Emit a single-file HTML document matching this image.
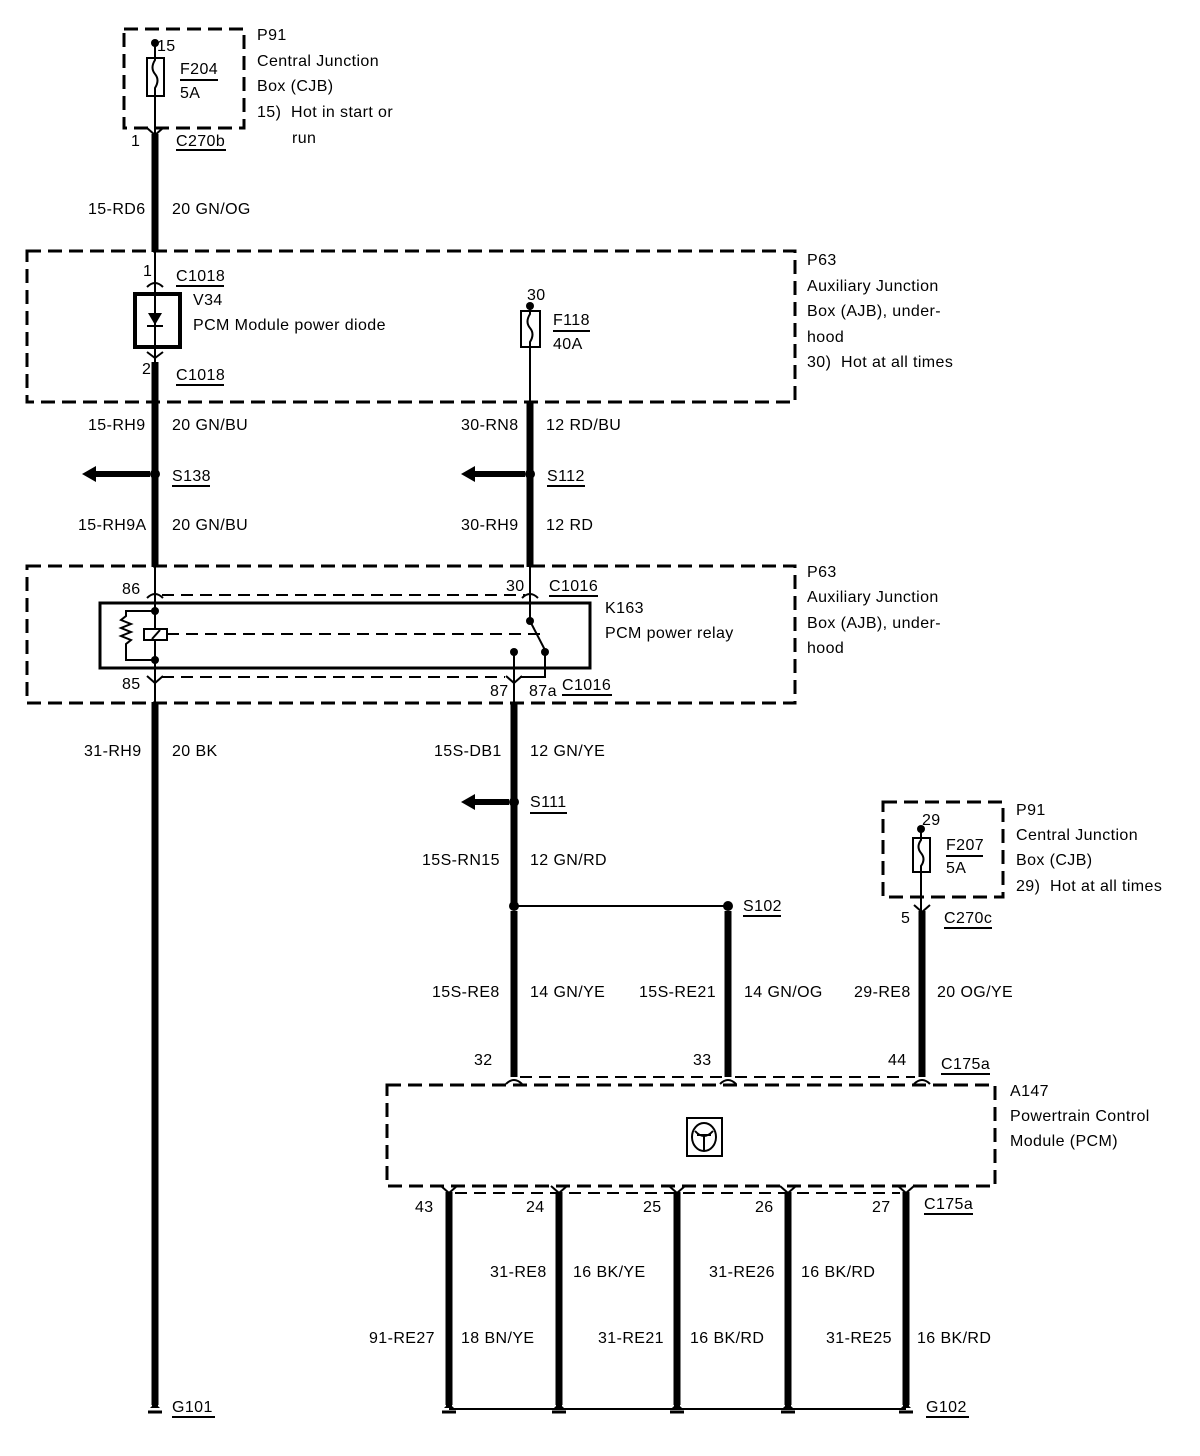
<!DOCTYPE html>
<html><head><meta charset="utf-8"><style>
html,body{margin:0;padding:0;background:#fff;}
svg{display:block;font-family:"Liberation Sans",Arial,sans-serif;font-size:16px;letter-spacing:0.4px;fill:#000;}
.d{fill:none;stroke:#000;stroke-width:3;stroke-dasharray:14,7;}
.t{stroke:#000;stroke-width:7;fill:none;}
.n{stroke:#000;stroke-width:2;fill:none;}
</style></head><body>
<svg width="1200" height="1456" viewBox="0 0 1200 1456" xmlns="http://www.w3.org/2000/svg">
<defs>
<g id="gnd"><rect x="-3" y="-6" width="6" height="6"/><path d="M-5 0 q5 -6 10 0 Z"/><path d="M-7 4 L7 4" stroke="#000" stroke-width="3"/></g>
</defs>
<!-- Top P91 box -->
<rect class="d" x="124" y="29" width="120" height="99"/>
<circle cx="155" cy="43" r="4"/>
<rect class="n" x="147" y="58" width="17" height="38"/>
<path class="n" d="M155 43 V60 q-5 8 0 14 q5 6 0 14 V135"/>
<text x="157" y="51">15</text>
<text x="180" y="74">F204</text><path class="n" d="M180 80 H218"/>
<text x="180" y="98">5A</text>
<text x="257" y="40">P91</text><text x="257" y="66">Central Junction</text><text x="257" y="91">Box (CJB)</text><text x="257" y="117">15)&#160;&#160;Hot in start or</text><text x="292" y="143">run</text>
<path class="n" d="M147 128 L155 135 L163 128" stroke-width="3"/>
<path class="t" d="M155 134 V252"/>
<text x="131" y="146">1</text><text x="176" y="146">C270b</text><path class="n" d="M176 150 H226"/>
<text x="88" y="214">15-RD6</text><text x="172" y="214">20 GN/OG</text>
<!-- AJB box -->
<rect class="d" x="27" y="251" width="768" height="151"/>
<path class="n" d="M155 252 V378"/>
<path class="n" d="M147 287 q8 -8 16 0" stroke-width="3"/>
<text x="143" y="276">1</text><text x="176" y="281">C1018</text><path class="n" d="M176 286 H224"/>
<rect x="135" y="294" width="45" height="53" fill="none" stroke="#000" stroke-width="4"/>
<path d="M148 313 H162 L155 325 Z"/><path class="n" d="M147 326 H163"/>
<text x="193" y="305">V34</text><text x="193" y="330">PCM Module power diode</text>
<path class="n" d="M147 352 L155 358 L163 352" stroke-width="3"/>
<text x="142" y="374">2</text><text x="176" y="380">C1018</text><path class="n" d="M176 385 H224"/>
<text x="527" y="300">30</text><circle cx="530" cy="306" r="4"/>
<rect class="n" x="521" y="311" width="19" height="36"/>
<path class="n" d="M530 306 V314 q-5 8 0 14 q5 6 0 14 V405"/>
<text x="553" y="325">F118</text><path class="n" d="M553 331 H590"/><text x="553" y="349">40A</text>
<text x="807" y="265">P63</text><text x="807" y="291">Auxiliary Junction</text><text x="807" y="316">Box (AJB), under-</text><text x="807" y="342">hood</text><text x="807" y="367">30)&#160;&#160;Hot at all times</text>
<!-- thick mid wires -->
<path class="t" d="M155 362 V567"/><path class="t" d="M530 402 V567"/>
<text x="88" y="430">15-RH9</text><text x="172" y="430">20 GN/BU</text>
<text x="461" y="430">30-RN8</text><text x="546" y="430">12 RD/BU</text>
<circle cx="155" cy="474" r="5"/><path d="M82 474 L96 466 V471 H150 V477 H96 V482 Z"/>
<text x="172" y="481">S138</text><path class="n" d="M172 486 H210"/>
<circle cx="530" cy="474" r="5"/><path d="M461 474 L475 466 V471 H525 V477 H475 V482 Z"/>
<text x="547" y="481">S112</text><path class="n" d="M547 486 H585"/>
<text x="78" y="530">15-RH9A</text><text x="172" y="530">20 GN/BU</text>
<text x="461" y="530">30-RH9</text><text x="546" y="530">12 RD</text>
<!-- Relay box -->
<rect class="d" x="27" y="566" width="768" height="137"/>
<rect x="100" y="603" width="490" height="65" fill="none" stroke="#000" stroke-width="3"/>
<path class="n" d="M155 566 V603"/><path class="n" d="M147 598 q8 -8 16 0" stroke-width="3"/>
<path class="n" d="M162 595 H525" stroke-dasharray="12,7"/>
<text x="122" y="594">86</text>
<path class="n" d="M155 603 V668"/>
<circle cx="155" cy="611" r="4"/><circle cx="155" cy="660" r="4"/>
<path class="n" d="M155 611 H126 V616 l-5 4 l10 4 l-10 4 l10 4 l-10 4 l10 4 l-5 4 V660 H155"/>
<rect x="144" y="629" width="23" height="11" fill="#fff" stroke="#000" stroke-width="2"/><path class="n" d="M152 639 L160 630"/>
<path class="n" d="M167 634 H540" stroke-dasharray="12,7"/>
<path class="n" d="M530 566 V621"/><path class="n" d="M522 598 q8 -8 16 0" stroke-width="3"/>
<text x="506" y="591">30</text><text x="549" y="591">C1016</text><path class="n" d="M549 596 H598"/>
<circle cx="530" cy="621" r="4"/><path class="n" d="M530 621 L546 652"/><circle cx="545" cy="652" r="4"/>
<circle cx="514" cy="652" r="4"/><path class="n" d="M514 652 V703"/>
<path class="n" d="M545 652 V677 H520"/>
<path class="n" d="M155 668 V703"/><path class="n" d="M147 676 L155 683 L163 676" stroke-width="3"/>
<path class="n" d="M162 677 H505" stroke-dasharray="12,7"/>
<path class="n" d="M506 676 L514 683 L522 676" stroke-width="3"/>
<text x="122" y="689">85</text><text x="490" y="696">87</text><text x="529" y="696">87a</text>
<text x="562" y="690">C1016</text><path class="n" d="M562 695 H612"/>
<text x="605" y="613">K163</text><text x="605" y="638">PCM power relay</text>
<text x="807" y="577">P63</text><text x="807" y="602">Auxiliary Junction</text><text x="807" y="628">Box (AJB), under-</text><text x="807" y="653">hood</text>
<!-- left ground wire -->
<path class="t" d="M155 702 V1405"/>
<text x="84" y="756">31-RH9</text><text x="172" y="756">20 BK</text>
<use href="#gnd" x="155" y="1408"/>
<text x="172" y="1412">G101</text><path class="n" d="M172 1417 H215"/>
<!-- 87 wire -->
<path class="t" d="M514 702 V906"/>
<text x="434" y="756">15S-DB1</text><text x="530" y="756">12 GN/YE</text>
<circle cx="514" cy="802" r="5"/><path d="M461 802 L475 794 V799 H509 V805 H475 V810 Z"/>
<text x="530" y="807">S111</text><path class="n" d="M530 813 H567"/>
<text x="422" y="865">15S-RN15</text><text x="530" y="865">12 GN/RD</text>
<circle cx="514" cy="906" r="5"/><path class="n" d="M514 906 H728"/><circle cx="728" cy="906" r="5"/>
<text x="743" y="911">S102</text><path class="n" d="M743 916 H781"/>
<path class="t" d="M514 911 V1077"/><path class="t" d="M728 911 V1077"/>
<text x="432" y="997">15S-RE8</text><text x="530" y="997">14 GN/YE</text>
<text x="639" y="997">15S-RE21</text><text x="744" y="997">14 GN/OG</text>
<!-- right P91 -->
<rect class="d" x="883" y="802" width="120" height="95"/>
<circle cx="921" cy="829" r="4"/><text x="922" y="825">29</text>
<rect class="n" x="913" y="838" width="17" height="34"/>
<path class="n" d="M921 829 V840 q-5 7 0 13 q5 6 0 13 V912"/>
<text x="946" y="850">F207</text><path class="n" d="M946 856 H983"/><text x="946" y="873">5A</text>
<text x="1016" y="815">P91</text><text x="1016" y="840">Central Junction</text><text x="1016" y="865">Box (CJB)</text><text x="1016" y="891">29)&#160;&#160;Hot at all times</text>
<path class="n" d="M914 905 L922 912 L930 905" stroke-width="3"/>
<path class="t" d="M922 911 V1077"/>
<text x="901" y="923">5</text><text x="944" y="923">C270c</text><path class="n" d="M944 928 H992"/>
<text x="854" y="997">29-RE8</text><text x="937" y="997">20 OG/YE</text>
<!-- PCM -->
<text x="474" y="1065">32</text><text x="693" y="1065">33</text><text x="888" y="1065">44</text>
<text x="941" y="1069">C175a</text><path class="n" d="M941 1074 H990"/>
<path class="n" d="M520 1077 H722 M735 1077 H915" stroke-dasharray="12,7"/>
<path class="n" d="M506 1084 q8 -8 16 0 M720 1084 q8 -8 16 0 M914 1084 q8 -8 16 0" stroke-width="3"/>
<rect class="d" x="387" y="1085" width="608" height="101"/>
<rect x="687" y="1118" width="35" height="38" fill="none" stroke="#000" stroke-width="2"/>
<ellipse cx="704" cy="1137" rx="12" ry="14" fill="none" stroke="#000" stroke-width="2"/>
<path class="n" d="M695 1131 q9 10 18 0 M697 1135 H711 M704 1135 V1150"/>
<text x="1010" y="1096">A147</text><text x="1010" y="1121">Powertrain Control</text><text x="1010" y="1146">Module (PCM)</text>
<path class="n" d="M455 1193 H900" stroke-dasharray="12,7"/>
<path class="n" d="M441 1186 L449 1193 L457 1186 M551 1186 L559 1193 L567 1186 M669 1186 L677 1193 L685 1186 M780 1186 L788 1193 L796 1186 M898 1186 L906 1193 L914 1186" stroke-width="3"/>
<path class="t" d="M449 1192 V1405 M559 1192 V1405 M677 1192 V1405 M788 1192 V1405 M906 1192 V1405"/>
<text x="415" y="1212">43</text><text x="526" y="1212">24</text><text x="643" y="1212">25</text><text x="755" y="1212">26</text><text x="872" y="1212">27</text>
<text x="924" y="1209">C175a</text><path class="n" d="M924 1214 H973"/>
<text x="490" y="1277">31-RE8</text><text x="573" y="1277">16 BK/YE</text>
<text x="709" y="1277">31-RE26</text><text x="801" y="1277">16 BK/RD</text>
<text x="369" y="1343">91-RE27</text><text x="461" y="1343">18 BN/YE</text>
<text x="598" y="1343">31-RE21</text><text x="690" y="1343">16 BK/RD</text>
<text x="826" y="1343">31-RE25</text><text x="917" y="1343">16 BK/RD</text>
<path class="n" d="M449 1409 H906"/>
<use href="#gnd" x="449" y="1408"/><use href="#gnd" x="559" y="1408"/><use href="#gnd" x="677" y="1408"/><use href="#gnd" x="788" y="1408"/><use href="#gnd" x="906" y="1408"/>
<text x="926" y="1412">G102</text><path class="n" d="M926 1417 H969"/>
</svg>
</body></html>
